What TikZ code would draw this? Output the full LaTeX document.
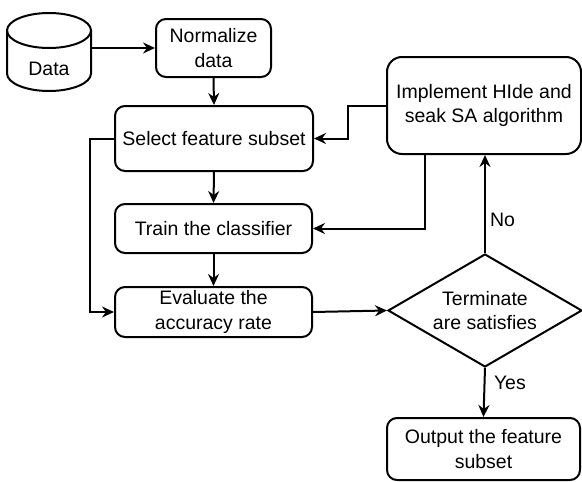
\documentclass[tikz,border=0pt]{standalone}
\usepackage{fontspec}
\setmainfont{Liberation Sans}
\usetikzlibrary{arrows.meta,shapes.geometric,calc}
\begin{document}
\begin{tikzpicture}[x=1pt,y=-1pt,
  line width=2pt,
  font=\fontsize{19.5}{24.5}\selectfont,
  box/.style={draw,rounded corners=10pt,align=center,inner sep=0pt},
  decision/.style={draw,shape=diamond,aspect=2,inner sep=0pt,align=center,
    minimum width=194pt,minimum height=113pt},
  arr/.style={-{Stealth[length=12pt,width=11pt,inset=4pt]}},
  lbl/.style={inner sep=0pt,anchor=west}]
\useasboundingbox (0,0) rectangle (582,482);

% storage symbol for the input data
\node[minimum width=84pt,minimum height=78pt,inner sep=0pt] (data) at (49,52) {};
\draw (7,30.5) -- (7,73.5) arc[start angle=180,end angle=0,x radius=42,y radius=17.5]
      -- (91,30.5);
\draw (49,30.5) ellipse[x radius=42,y radius=17.5];
\node at (49,69) {Data};

% process steps
\node[box,minimum width=115pt,minimum height=58pt] (norm) at (213.5,48) {Normalize\\data};
\node[box,minimum width=198pt,minimum height=65pt] (sel) at (214,138.5) {Select feature subset};
\node[box,minimum width=197pt,minimum height=49pt] (train) at (213.5,228.5) {Train the classifier};
\node[box,minimum width=197pt,minimum height=50pt] (eval) at (213.5,312) {Evaluate the\\accuracy rate};
\node[box,rounded corners=15pt,minimum width=194pt,minimum height=97pt] (impl) at (484,105.5)
  {Implement HIde and\\seak SA algorithm};
\node[decision] (dec) at (485,310.5) {Terminate\\are satisfies};
\node[box,minimum width=193pt,minimum height=62pt] (out) at (483.5,449) {Output the feature\\subset};

% connectors
\draw[arr] (norm.west -| data.east) -- (norm.west);
\draw[arr] (norm.south) -- (sel.north);
\draw[arr] (sel.south) -- (train.north);
\draw[arr] (train.south) -- (eval.north);
\draw[arr] (sel.west) -- ++(-24,0) |- (eval.west);
\draw[arr] (eval.east) -- (dec.west);
\draw[arr] (dec.north) -- (dec.north |- impl.south);
\draw[arr] (impl.west) -- ++(-38,0) |- (sel.east);
\draw[arr] ([xshift=39pt]impl.south west) |- (train.east);
\draw[arr] (dec.south) -- (out.north);

% branch labels
\node[lbl] (no) at (489,220) {No};
\node[lbl] (yes) at (493,383) {Yes};
\end{tikzpicture}
\end{document}
